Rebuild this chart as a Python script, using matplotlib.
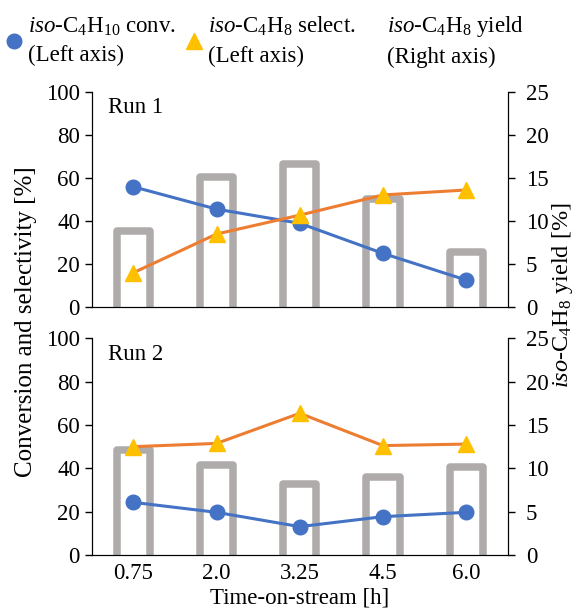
import matplotlib.pyplot as plt
from matplotlib.lines import Line2D

plt.rcParams["font.family"] = "Liberation Serif"
plt.rcParams["mathtext.fontset"] = "custom"
plt.rcParams["mathtext.rm"] = "Liberation Serif"
plt.rcParams["mathtext.it"] = "Liberation Serif:italic"
plt.rcParams["font.size"] = 16.5

# data
times = ["0.75", "2.0", "3.25", "4.5", "6.0"]
run_names = ["Run 1", "Run 2"]
conv = [[55.8, 45.4, 38.8, 24.8, 12.4],
        [24.3, 19.7, 13.1, 17.7, 19.7]]
select = [[15.8, 33.8, 42.6, 52.0, 54.3],
          [50.0, 51.5, 65.4, 50.5, 51.2]]
yld = [[8.8, 15.1, 16.6, 12.5, 6.4],
       [12.1, 10.4, 8.2, 9.0, 10.1]]

blue = "#4472C4"
orange = "#ED7D31"
yellow = "#FFC000"
grey = "#AFABAB"

fig = plt.figure(figsize=(5.77, 6.12), dpi=100)
left, right = 0.159, 0.880
boxes = [(0.4989, 0.850), (0.0931, 0.4472)]
x = list(range(len(times)))

for i, (b, t) in enumerate(boxes):
    ax = fig.add_axes([left, b, right - left, t - b])
    ax2 = ax.twinx()
    ax.set_zorder(ax2.get_zorder() + 1)
    ax.patch.set_visible(False)

    # hollow bars, open at the bottom
    ax2.bar(x, [v + 1 for v in yld[i]], bottom=-1, width=0.4, fill=False,
            edgecolor=grey, linewidth=5.4, joinstyle="round")
    ax2.set_ylim(0, 25)
    ax2.set_yticks(range(0, 26, 5))

    ax.plot(x, conv[i], color=blue, lw=2.2, marker="o", ms=10.5, mfc=blue, mec=blue)
    ax.plot(x, select[i], color=orange, lw=2.2, marker="^", ms=11, mfc=yellow, mec=yellow)
    ax.set_ylim(0, 100)
    ax.set_yticks(range(0, 101, 20))
    ax.set_xlim(-0.5, 4.5)
    ax.set_xticks(x)
    ax.tick_params(axis="x", length=0, pad=6)
    ax.tick_params(axis="y", length=5, width=1)
    ax2.tick_params(axis="y", length=5, width=1, pad=8)
    if i == 0:
        ax.set_xticklabels([])
    else:
        ax.set_xticklabels(times)
        ax.set_xlabel("Time-on-stream [h]", labelpad=2)
    for a in (ax, ax2):
        a.spines["top"].set_visible(False)
    ax.text(0.04, 0.975, run_names[i], transform=ax.transAxes, va="top", ha="left")

fig.text(0.045, 0.474, "Conversion and selectivity [%]", rotation=90,
         ha="center", va="center", fontsize=18)
fig.text(0.975, 0.518, r"$\mathit{iso}$-C$_4$H$_8$ yield [%]", rotation=90,
         ha="center", va="center", fontsize=17.5)

handles = [
    Line2D([], [], ls="none", marker="o", ms=10.5, color=blue),
    Line2D([], [], ls="none", marker="^", ms=11, color=yellow),
    Line2D([], [], ls="none"),
]
labels = [
    "$\\mathit{iso}$-C$_4$H$_{10}$ conv.\n(Left axis)",
    "$\\mathit{iso}$-C$_4$H$_8$ select.\n(Left axis)",
    "$\\mathit{iso}$-C$_4$H$_8$ yield\n(Right axis)",
]
leg = fig.legend(handles, labels, ncol=3, loc="upper left", bbox_to_anchor=(0.0, 0.988),
                 frameon=False, handlelength=0.6, handletextpad=0.3, columnspacing=0.5,
                 borderaxespad=0.1, borderpad=0.2)
for txt in leg.get_texts():
    txt.set_linespacing(1.45)

fig.savefig("out.png", dpi=100)
